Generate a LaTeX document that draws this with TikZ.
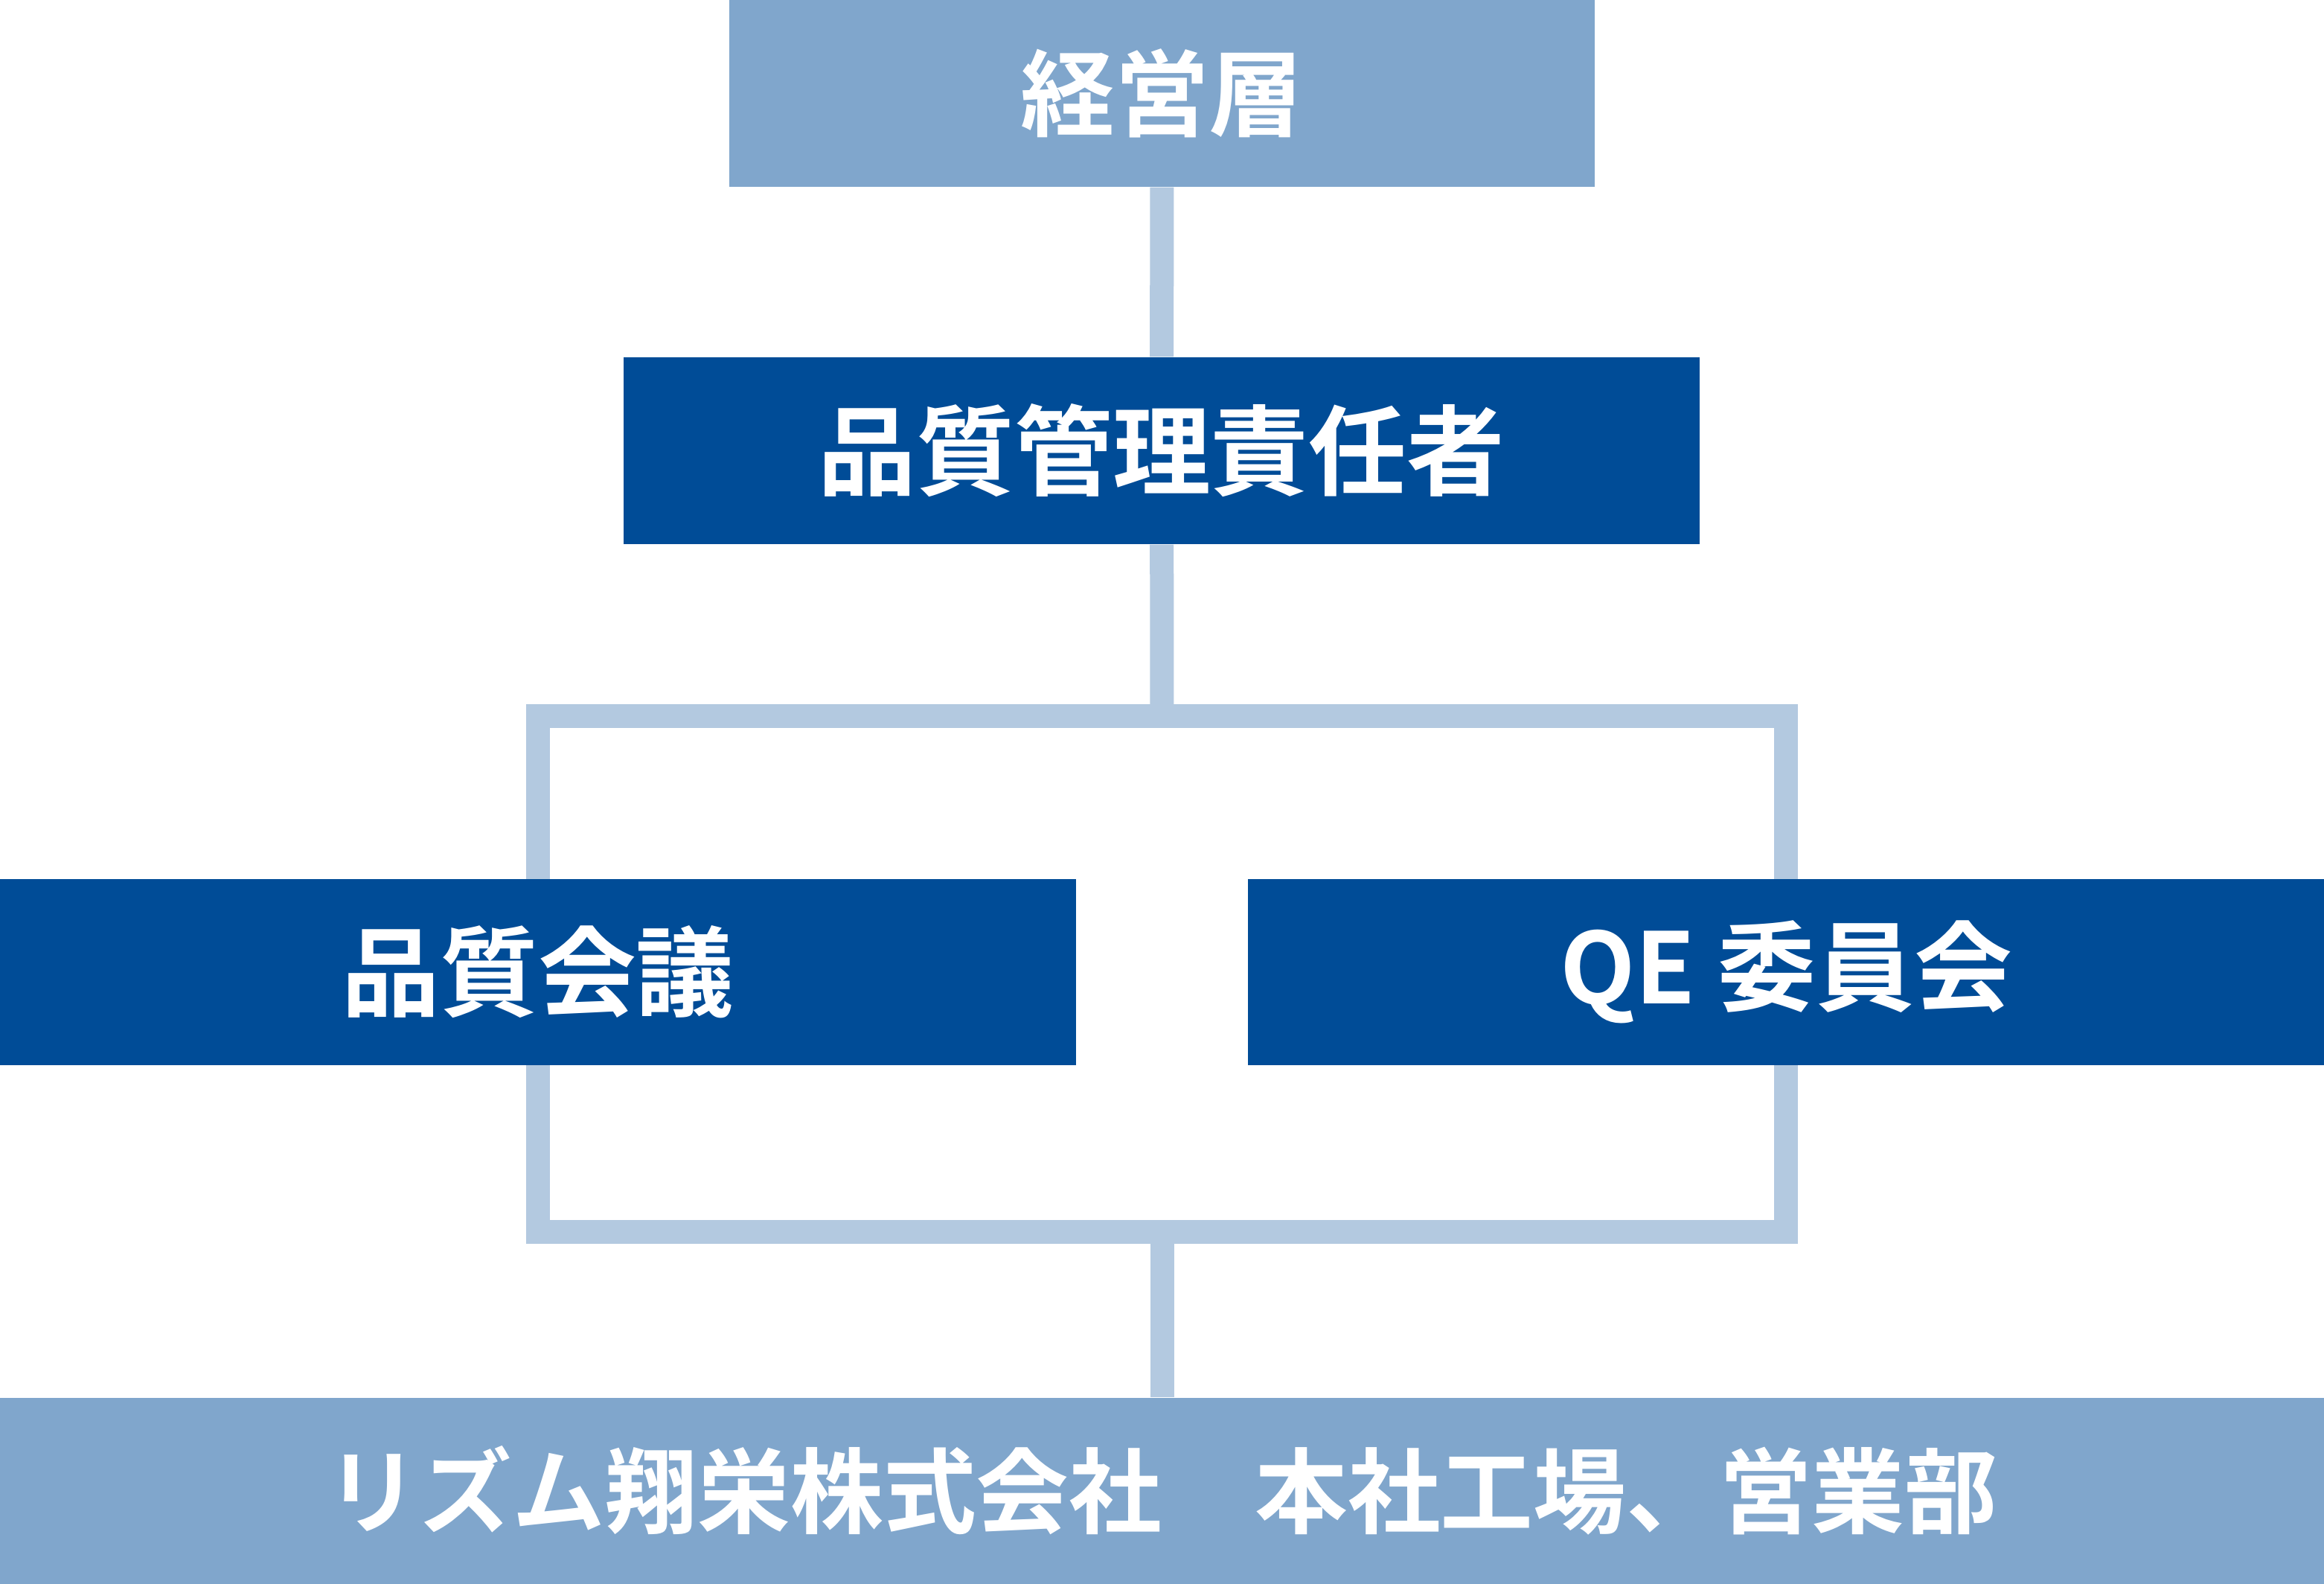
\documentclass[tikz,border=0pt]{standalone}
\usepackage{fontspec}
\newfontfamily\jpfont{Noto Sans CJK JP}[BoldFont={* Bold}]
\usepackage{xcolor}
\usepackage{tikz}
\usetikzlibrary{backgrounds}
\definecolor{paleblue}{RGB}{128,166,204}
\definecolor{deepblue}{RGB}{0,76,151}
\definecolor{linkblue}{RGB}{179,201,224}

\begin{document}
\begin{tikzpicture}[orgbox/.style={rectangle,inner sep=0pt,minimum height=2.5cm,text=white,
font=\jpfont\bfseries\fontsize{#1}{40}\selectfont},
palebox/.style={orgbox=#1,fill=paleblue},
deepbox/.style={orgbox=37.5,fill=deepblue,minimum width=14.46cm},
link/.style={draw=linkblue,line width=0.32cm,line join=miter}]
\useasboundingbox (0,0) rectangle (31.23,-21.27);
\node[palebox=36,minimum width=11.63cm,minimum height=2.51cm] (mgmt) at (15.615,-1.255) {経営層};
\node[deepbox,minimum height=2.51cm] (qmr) at (15.61,-6.055) {品質管理責任者};
\node[deepbox] (qmeet) at (7.23,-13.055) {品質会議};
\node[deepbox] (qecom) at (24.0,-13.055) {QE 委員会};
\node[palebox=35.5,minimum width=31.23cm] (site) at (15.615,-20.025) {リズム翔栄株式会社　本社工場、営業部};
\coordinate (jtop) at (15.615,-9.62);
\coordinate (jbot) at (15.615,-16.55);
\begin{scope}[on background layer]
\draw[link] (mgmt) -- (qmr);
\draw[link] (qmr) -- (jtop);
\draw[link] (qmeet.center) |- (jtop) -| (qecom.center);
\draw[link] (qmeet.center) |- (jbot) -| (qecom.center);
\draw[link] (jbot) -- (site);
\end{scope}
\end{tikzpicture}
\end{document}
